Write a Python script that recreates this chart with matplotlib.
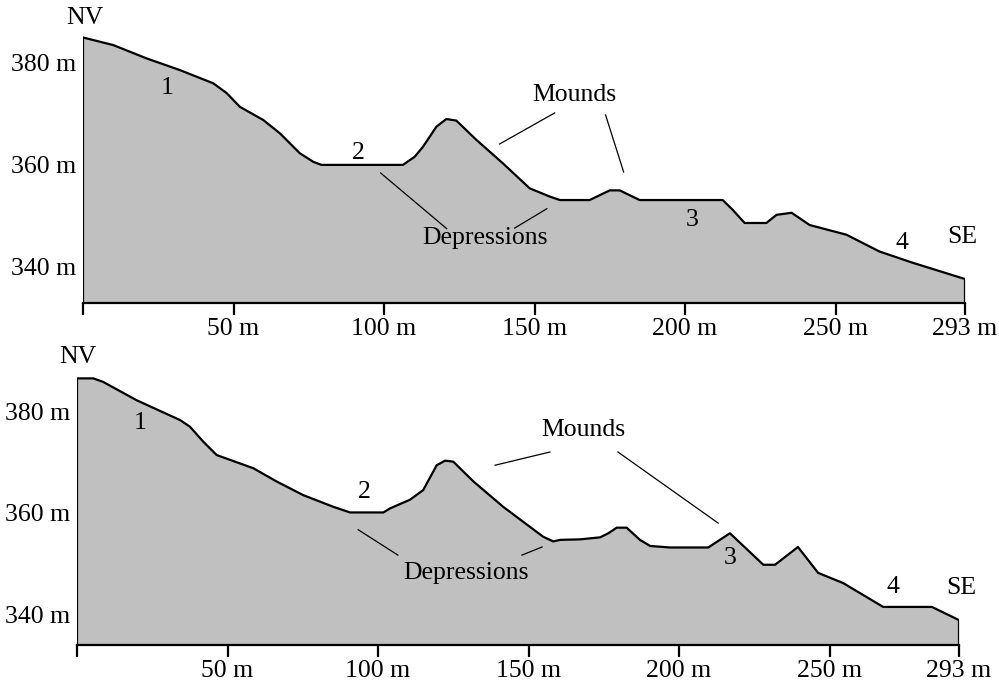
import matplotlib
matplotlib.use("Agg")
import matplotlib.pyplot as plt

# profile 1 (top)
top_dist = [0, 10.1, 21.1, 32.2, 43.3, 47.7, 52.1, 59.9, 65.4, 72, 76.5, 79.2,
            106.3, 110.2, 113, 117.4, 120.7, 124, 130.7, 139.5, 148.4, 155,
            158.4, 168.3, 175, 178.3, 184.9, 212.5, 215.8, 219.8, 227, 230.4,
            235.4, 241.4, 253.6, 264.6, 275.6, 293]
top_elev = [385.0, 383.5, 380.9, 378.6, 376, 374.1, 371.4, 368.8, 366.2, 362.3,
            360.6, 360, 360, 361.6, 363.6, 367.5, 369, 368.7, 364.9, 360.3,
            355.4, 353.8, 353.1, 353.1, 355, 355, 353.1, 353.1, 351.2, 348.6,
            348.6, 350.2, 350.6, 348.2, 346.3, 343, 340.8, 337.6]

# profile 2 (bottom)
bot_dist = [0, 5.4, 8.7, 19.8, 34.2, 37.5, 42, 46.4, 58.6, 66.3, 75.2, 85.2,
            90.7, 101.8, 104, 110.6, 115, 119.5, 122.3, 125, 131.7, 141.6, 154.9,
            158.2, 160.5, 167.1, 173.8, 176.5, 179.3, 182.6, 187, 190.4, 197,
            209.7, 216.9, 228, 231.9, 239.5, 246.2, 254.5, 267.8, 284, 293]
bot_elev = [386.5, 386.5, 385.8, 382.2, 378.3, 377, 374, 371.4, 368.8, 366.2,
            363.5, 361.2, 360.1, 360.1, 360.9, 362.6, 364.5, 369.4, 370.3, 370.1,
            366.2, 361.2, 355.3, 354.4, 354.7, 354.8, 355.2, 356, 357.1, 357.1,
            354.7, 353.5, 353.2, 353.2, 356, 349.8, 349.8, 353.3, 348.2, 346.2,
            341.5, 341.5, 338.9]

x_ticks = [0, 50, 100, 150, 200, 250, 293]
x_labels = ["", "50 m", "100 m", "150 m", "200 m", "250 m", "293 m"]
y_ticks = [340, 360, 380]
y_labels = ["340 m", "360 m", "380 m"]

# text labels: (text, x, elevation)
top_texts = [("NV", 0.7, 388.8), ("1", 27.9, 375.1), ("2", 91.6, 362.4),
             ("Mounds", 163.3, 373.7), ("Depressions", 133.4, 345.7),
             ("3", 202.5, 349.2), ("4", 271.9, 344.7), ("SE", 292.2, 345.9)]
bot_texts = [("NV", 0.3, 390.7), ("1", 20.9, 377.7), ("2", 95.3, 364.1),
             ("Mounds", 168.1, 376.3), ("Depressions", 129.2, 348.2),
             ("3", 216.9, 351.1), ("4", 271.1, 345.4), ("SE", 293.7, 345.2)]

# leader lines: (x0, y0, x1, y1)
top_leaders = [(138.4, 364.1, 156.7, 370.2), (173.6, 369.8, 179.6, 358.6),
               (98.9, 358.4, 120.8, 347.5), (143.4, 347.6, 154.1, 351.4)]
bot_leaders = [(138.9, 369.4, 157.1, 372.0), (179.7, 372.0, 213.0, 358.0),
               (93.4, 356.7, 106.6, 351.7), (147.8, 351.7, 154.5, 353.3)]

FONT = "Liberation Serif"
FS = 18.5


def draw_profile(ax, dist, elev, ymin, texts, leaders):
    ax.set_xlim(0, 293)
    ax.set_ylim(ymin, 390)
    ax.fill_between(dist, elev, ymin, color="#c0c0c0", lw=0)
    ax.plot([dist[0]] + dist + [dist[-1]], [ymin] + elev + [ymin],
            color="black", lw=1.6, solid_joinstyle="round")
    for x0, y0, x1, y1 in leaders:
        ax.plot([x0, x1], [y0, y1], color="black", lw=0.9)
    for t, x, y in texts:
        ax.text(x, y, t, ha="center", va="center", fontsize=FS,
                family=FONT, clip_on=False)

    for s in ["top", "right", "left"]:
        ax.spines[s].set_visible(False)
    ax.spines["bottom"].set_linewidth(1.6)
    ax.set_xticks(x_ticks)
    ax.set_xticklabels(x_labels, family=FONT, fontsize=FS)
    ax.set_yticks(y_ticks)
    ax.set_yticklabels(y_labels, family=FONT, fontsize=FS)
    ax.tick_params(axis="x", direction="out", length=8.5, width=1.6, pad=2.5)
    ax.tick_params(axis="y", length=0, pad=5)
    ax.patch.set_alpha(0)


fig = plt.figure(figsize=(9.99, 6.87), dpi=100)
ax1 = fig.add_axes([83 / 999, (687 - 303) / 687, 882 / 999, 291 / 687])
ax2 = fig.add_axes([77 / 999, (687 - 645) / 687, 882 / 999, 284.4 / 687])

draw_profile(ax1, top_dist, top_elev, 332.9, top_texts, top_leaders)
draw_profile(ax2, bot_dist, bot_elev, 334.0, bot_texts, bot_leaders)

fig.savefig("out.png", dpi=100)
